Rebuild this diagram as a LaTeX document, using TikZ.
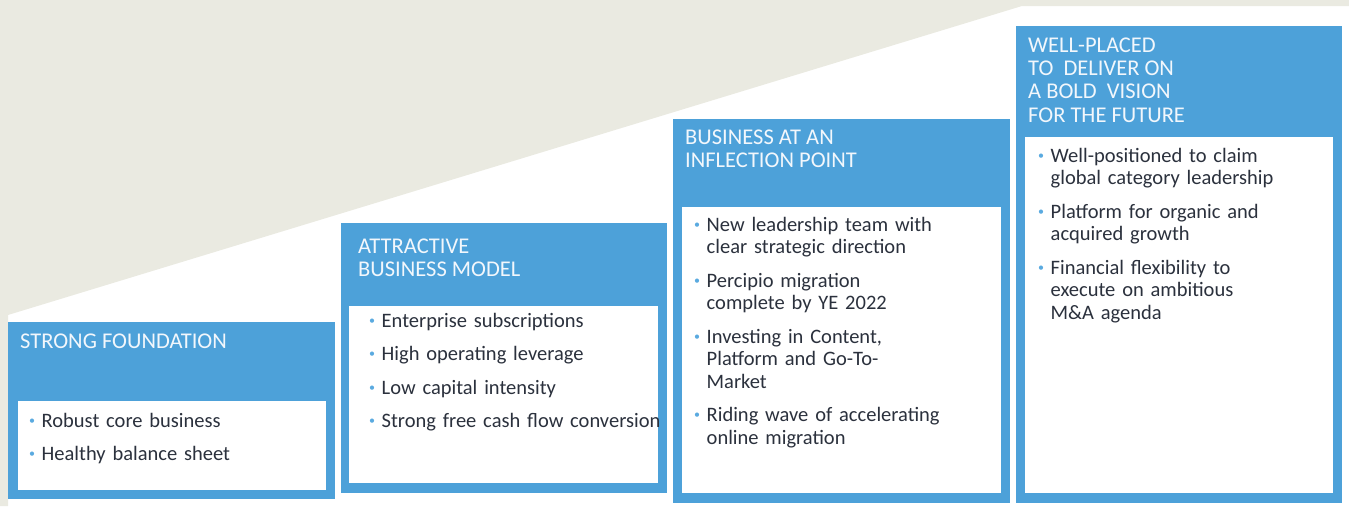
\documentclass[tikz,border=0pt]{standalone}
\usepackage{fontspec}
\setmainfont{Carlito}
\definecolor{stepblue}{HTML}{4DA1D9}
\definecolor{dotblue}{HTML}{5AAAE0}
\definecolor{bodygray}{HTML}{2B313D}
\definecolor{headwhite}{HTML}{F2F7FC}
\definecolor{backbeige}{HTML}{EAEAE1}
\newcommand{\stepitem}[1]{{\hangindent=12.5pt\hangafter=1\noindent
  \makebox[12.5pt][l]{\raisebox{3pt}{\textcolor{dotblue}{\fontsize{12}{12}\selectfont\textbullet}}}\strut#1\par}}
\tikzset{
  stepbox/.style={rectangle,fill=stepblue,draw=none,anchor=north west,inner sep=0pt},
  stepinner/.style={rectangle,fill=white,draw=none,anchor=north west,inner sep=0pt},
  stephead/.style={anchor=north west,inner sep=0pt,align=left,text=headwhite,
    font=\fontsize{22.5}{23.3}\selectfont},
  stepbody/.style={anchor=north west,inner sep=0pt,text width=310pt,align=left,text=bodygray,
    font=\fontsize{20.5}{22.5}\selectfont\setlength{\parskip}{11pt}}
}
\begin{document}
\begin{tikzpicture}[x=1pt,y=-1pt]
	\useasboundingbox (0,0) rectangle (1349,506);
	\fill[backbeige] (0,0) -- (1349,0) -- (1349,6) -- (1022,6) -- (8,315) -- (8,506) -- (0,506) -- cycle;

	% steps
	\node[stepbox,minimum width=327pt,minimum height=177pt] (S1) at (8,322) {};
	\node[stepinner,minimum width=308pt,minimum height=89pt] (S1in) at (18,401) {};
	\node[stepbox,minimum width=326pt,minimum height=270pt] (S2) at (341,223) {};
	\node[stepinner,minimum width=309pt,minimum height=177pt] (S2in) at (349,306) {};
	\node[stepbox,minimum width=337pt,minimum height=384pt] (S3) at (673,119) {};
	\node[stepinner,minimum width=319pt,minimum height=286pt] (S3in) at (682,207) {};
	\node[stepbox,minimum width=326pt,minimum height=477pt] (S4) at (1016,26) {};
	\node[stepinner,minimum width=308pt,minimum height=356pt] (S4in) at (1025,137) {};

	% headers
	\node[stephead] (S1h) at (20,331.7) {\strut STRONG FOUNDATION};
	\node[stephead] (S2h) at (358,236.7) {\strut ATTRACTIVE\\BUSINESS MODEL};
	\node[stephead] (S3h) at (685,128) {\strut BUSINESS AT AN\\INFLECTION POINT};
	\node[stephead] (S4h) at (1028,35.7) {\strut WELL-PLACED\\TO\ \ DELIVER ON\\A BOLD\ \ VISION\\FOR THE FUTURE};

	% bullets
	\node[stepbody] (S1b) at (29,411.2) {%
		\stepitem{Robust core business}
		\stepitem{Healthy balance sheet}};
	\node[stepbody] (S2b) at (369,311.2) {%
		\stepitem{Enterprise subscriptions}
		\stepitem{High operating leverage}
		\stepitem{Low capital intensity}
		\stepitem{Strong free cash flow conversion}};
	\node[stepbody] (S3b) at (694,215.2) {%
		\stepitem{New leadership team with\newline clear strategic direction}
		\stepitem{Percipio migration\newline complete by YE 2022}
		\stepitem{Investing in Content,\newline Platform and Go-To-\newline Market}
		\stepitem{Riding wave of accelerating\newline online migration}};
	\node[stepbody] (S4b) at (1038,146.2) {%
		\stepitem{Well-positioned to claim\newline global category leadership}
		\stepitem{Platform for organic and\newline acquired growth}
		\stepitem{Financial flexibility to\newline execute on ambitious\newline M\&A agenda}};
\end{tikzpicture}
\end{document}
